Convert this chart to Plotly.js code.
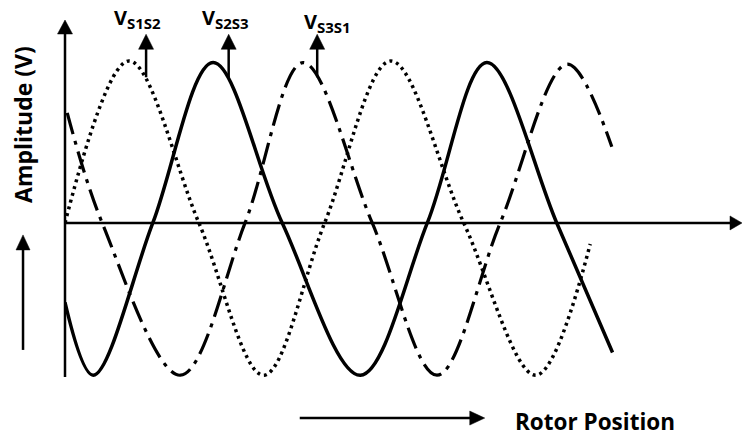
<!DOCTYPE html>
<html>
<head>
<meta charset="utf-8">
<script src="https://cdn.plot.ly/plotly-3.0.1.min.js"></script>
<style>html,body{margin:0;padding:0;background:#fff;}#chart{width:742px;height:437px;}</style>
</head>
<body>
<div id="chart"></div>
<script>
// Rotor position (electrical degrees) and normalised amplitude
const dottedX = [0, 86, 180, 267, 349, 438, 536, 633, 706];
const dottedY = [0, 1.0, 0, -0.94, 0, 1.0, 0, -0.94, -0.13];

const solidX = [0, 38, 118, 199, 292, 397, 487, 567, 661, 736];
const solidY = [-0.49, -0.94, 0, 0.99, 0, -0.94, 0, 0.99, 0, -0.8];

const dashDotX = [3, 50, 155, 242, 320, 413, 500, 585, 675, 735];
const dashDotY = [0.68, 0, -0.94, 0, 0.99, 0, -0.94, 0, 0.98, 0.47];

const seriesSubs = ['S1S2', 'S2S3', 'S3S1'];
const labelAt = [109, 220, 339];           // rotor position of each label arrow
const xMax = 910, yMin = -0.951, yMax = 1.253;

const traces = [
  {x: dottedX, y: dottedY, mode: 'lines', line: {color: '#000', width: 3.5, dash: '3px,4px', shape: 'spline', smoothing: 1}, cliponaxis: false},
  {x: solidX, y: solidY, mode: 'lines', line: {color: '#000', width: 3.5, shape: 'spline', smoothing: 1}, cliponaxis: false},
  {x: dashDotX, y: dashDotY, mode: 'lines', line: {color: '#000', width: 3.2, dash: '22px,7px,4px,7px', shape: 'spline', smoothing: 1}, cliponaxis: false}
];

// arrow = shaft + filled head, sized in pixels around an anchor point (the tip)
function arrow(xref, yref, xa, ya, ux, uy, len, head, hw) {
  const bx = -ux * head, by = -uy * head, px = -uy, py = ux;
  const common = {xref: xref, yref: yref, xsizemode: 'pixel', ysizemode: 'pixel', xanchor: xa, yanchor: ya, layer: 'above'};
  return [
    Object.assign({type: 'line', x0: -ux * len, y0: -uy * len, x1: -ux * head * 0.6, y1: -uy * head * 0.6, line: {color: '#000', width: 2.5}}, common),
    Object.assign({type: 'path', path: 'M0,0 L' + (bx + px * hw) + ',' + (by + py * hw) + ' L' + (bx - px * hw) + ',' + (by - py * hw) + ' Z',
      fillcolor: '#000', line: {color: '#000', width: 0.5}}, common)
  ];
}

const eps = 1e-6;
let shapes = [];
shapes = shapes.concat(arrow('paper', 'paper', eps, 1, 0, 1, 357, 14, 7.5));     // y axis
shapes = shapes.concat(arrow('paper', 'y', 1, eps, 1, 0, 677, 12, 7));           // x axis
labelAt.forEach(function (lx) { shapes = shapes.concat(arrow('x', 'y', lx, 1.165, 0, 1, 43, 15, 7.5)); });
shapes = shapes.concat(arrow('paper', 'paper', -0.062, 0.398, 0, 1, 115, 15, 7));   // amplitude arrow
shapes = shapes.concat(arrow('paper', 'paper', 0.620, -0.115, 1, 0, 185, 15, 7));   // rotor arrow

const ann = [];
const labelLeft = [0.0694, 0.1994, 0.350];
const labelY = [1.004, 1.004, 0.992];
seriesSubs.forEach(function (s, i) {
  ann.push({x: labelLeft[i], y: labelY[i], xref: 'paper', yref: 'paper', xanchor: 'left', yanchor: 'middle', showarrow: false,
    text: '<b>V<sub><span style="font-size:15px">' + s + '</span></sub></b>',
    font: {family: 'Open Sans', size: 20, color: '#000'}});
});
ann.push({x: -0.062, y: 0.706, xref: 'paper', yref: 'paper', xanchor: 'center', yanchor: 'middle', text: '<b>Amplitude (V)</b>', textangle: -90, showarrow: false, font: {family: 'Open Sans', size: 23, color: '#000'}});
ann.push({x: 0.783, y: -0.126, xref: 'paper', yref: 'paper', xanchor: 'center', yanchor: 'middle', text: '<b>Rotor Position</b>', showarrow: false, font: {family: 'Open Sans', size: 22.5, color: '#000'}});

const layout = {
  width: 742, height: 437,
  margin: {l: 65, r: 0, t: 20, b: 60},
  paper_bgcolor: '#fff', plot_bgcolor: '#fff',
  showlegend: false,
  xaxis: {range: [0, xMax], visible: false, fixedrange: true},
  yaxis: {range: [yMin, yMax], visible: false, fixedrange: true},
  shapes: shapes,
  annotations: ann
};

Plotly.newPlot('chart', traces, layout, {displayModeBar: false, staticPlot: true});
</script>
</body>
</html>
